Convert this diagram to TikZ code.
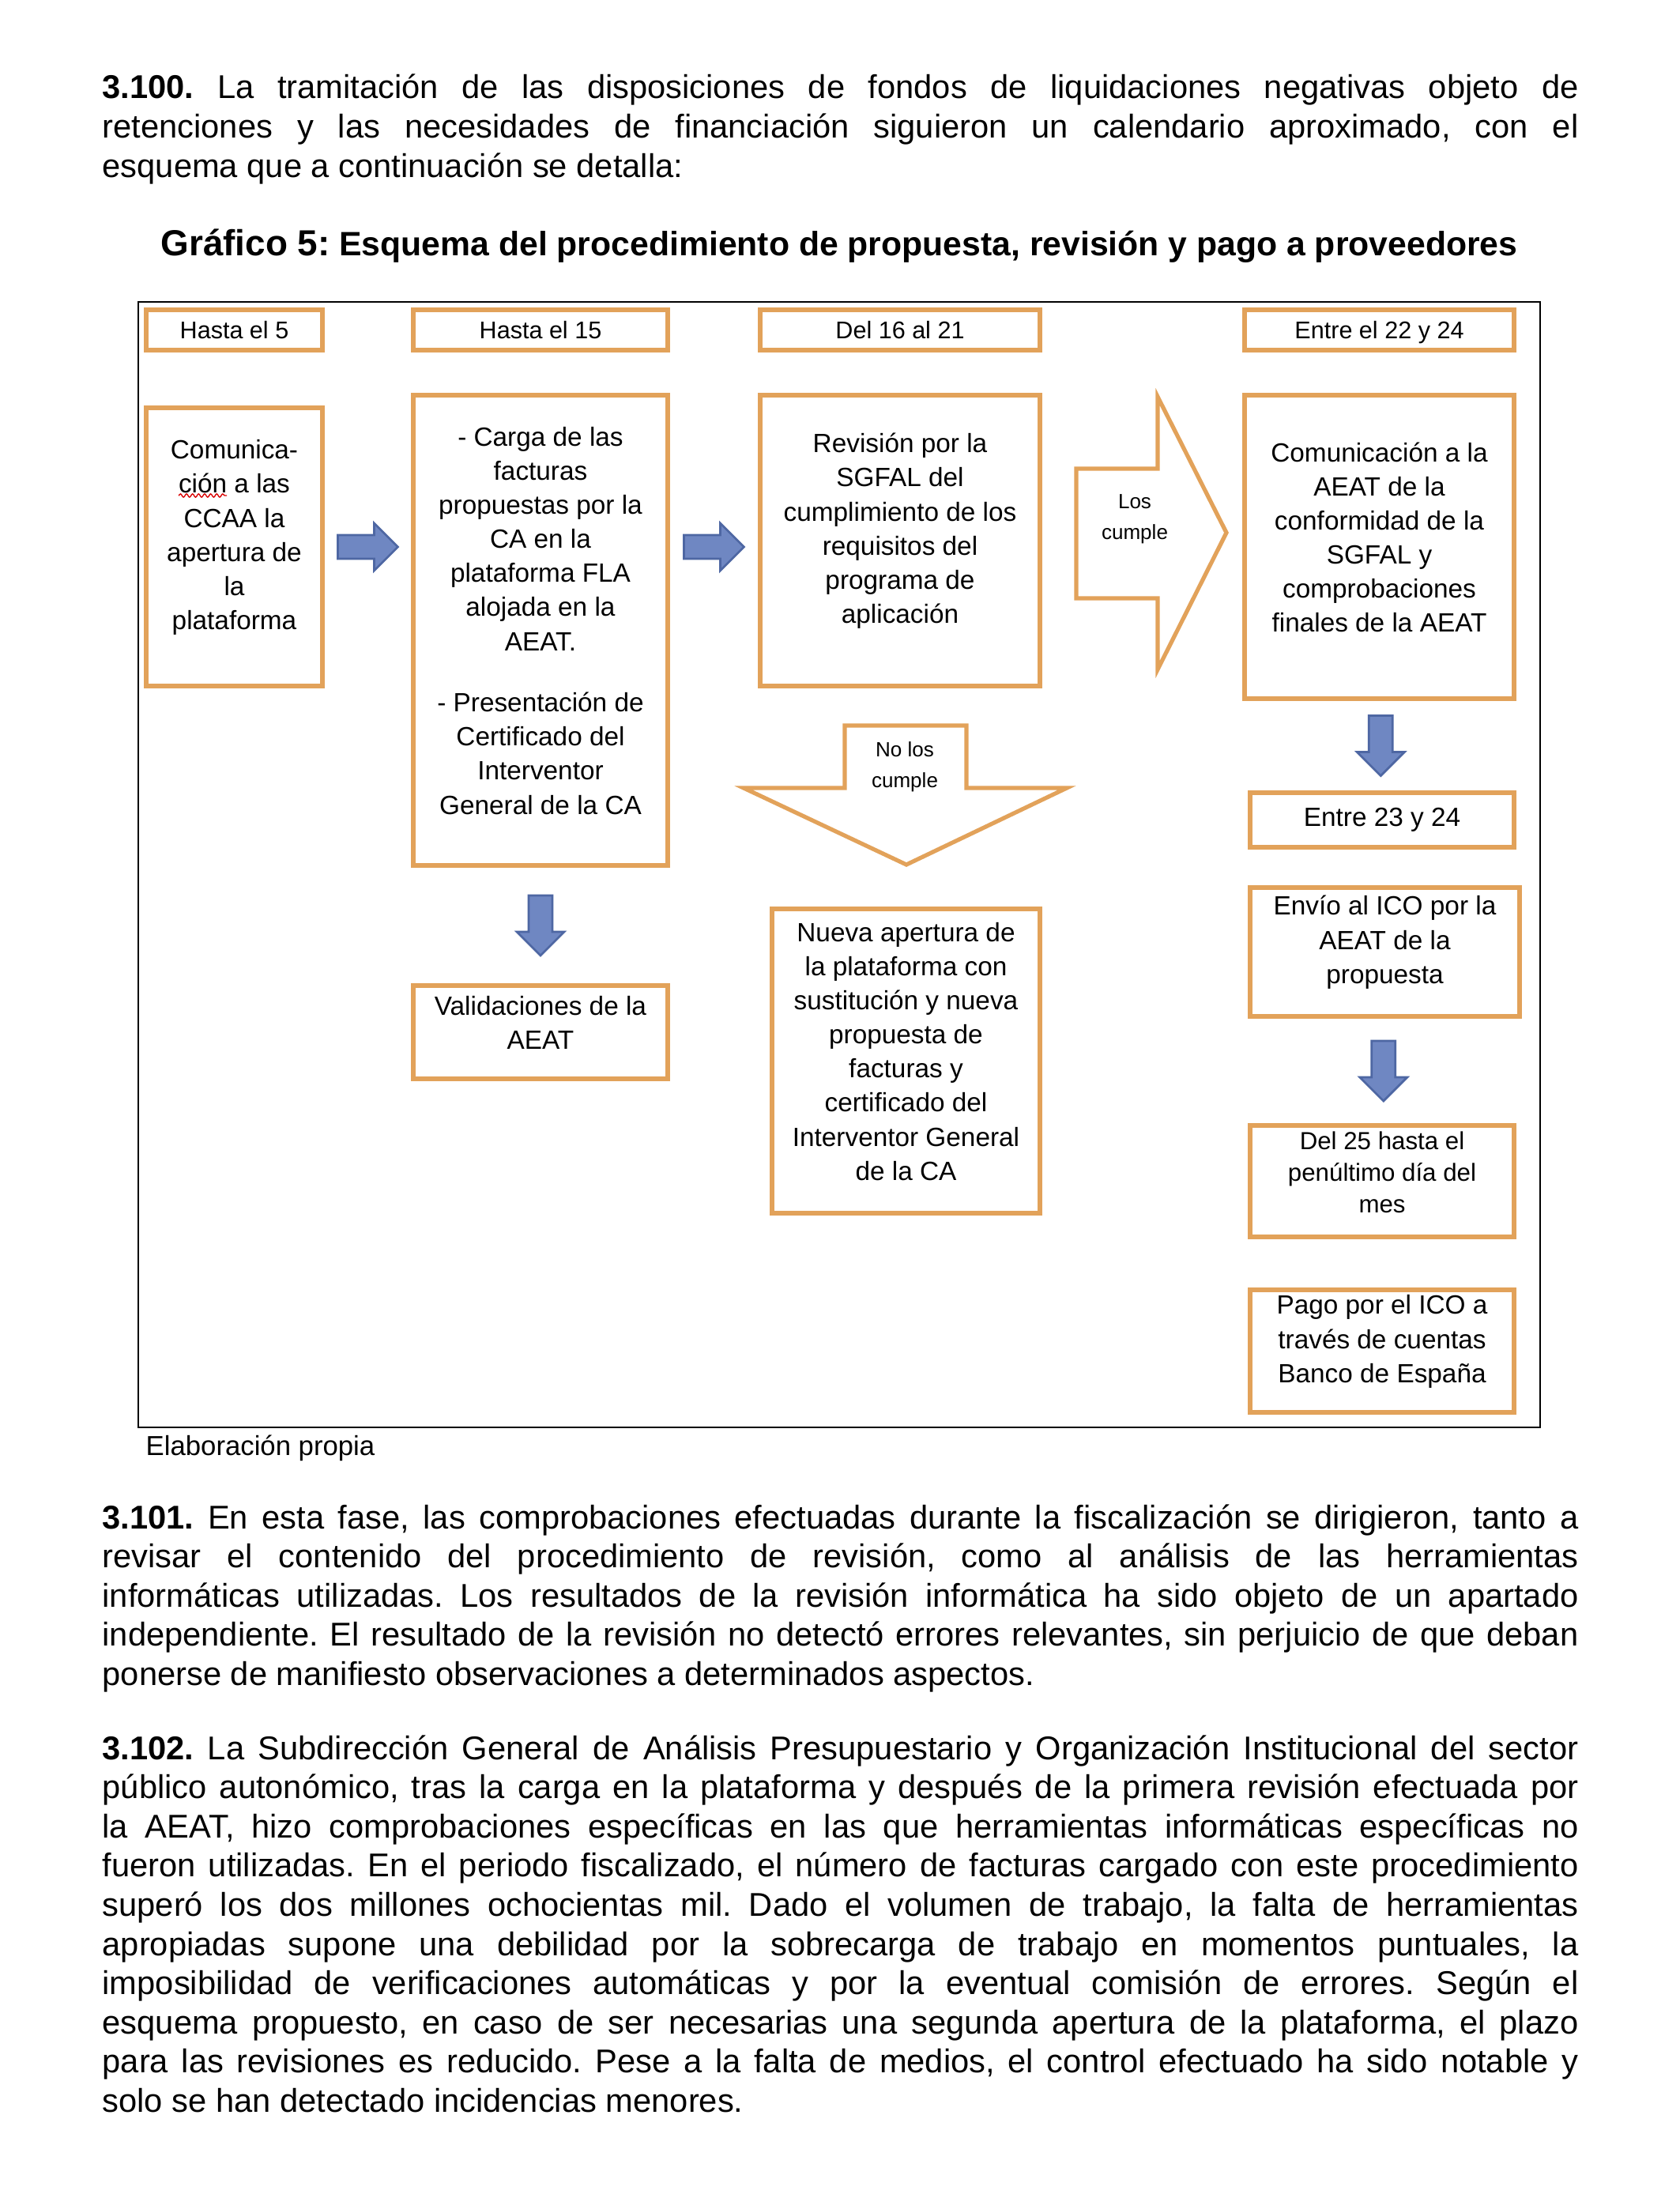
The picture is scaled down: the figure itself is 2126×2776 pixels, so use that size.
\documentclass[tikz,border=0pt]{standalone}
\usepackage{fontspec}
\setmainfont{Liberation Sans}
\frenchspacing
\usepackage{tikz}
\usetikzlibrary{fit,calc,decorations.pathmorphing}
\definecolor{boxorange}{HTML}{E2A25A}
\definecolor{arrowblue}{HTML}{6F87C2}
\definecolor{arrowedge}{HTML}{4E67A3}
\newcommand\px{0.2879pt}
\tikzset{blockarrow/.pic={\draw[draw=arrowedge,fill=arrowblue,line width=0.8pt,line join=miter] (-38,-15) -- (8,-15) -- (8,-30) -- (38,0) -- (8,30) -- (8,15) -- (-38,15) -- cycle;}}

\begin{document}
\begin{tikzpicture}[x=0.2879pt,y=-0.2879pt,
  hdr/.style={draw=boxorange,line width=1.6pt,fill=white,inner sep=0pt,text height=6.4pt,text depth=0pt,minimum height=51*\px,font=\fontsize{8.8}{10}\selectfont},
  onebox/.style={draw=boxorange,line width=1.6pt,fill=white,inner sep=0pt,text height=7pt,text depth=2.5pt,font=\fontsize{9.6}{12.4}\selectfont},
  stepbox/.style={draw=boxorange,line width=1.6pt,fill=white,inner sep=0pt,align=center,font=\fontsize{9.6}{12.4}\selectfont},
  oarrow/.style={draw=boxorange,line width=1.5pt,fill=white,line join=miter},
  lbl/.style={align=center,inner sep=0pt,font=\fontsize{7.5}{11.2}\selectfont},
  body/.style={anchor=base west,inner sep=0pt,text width=1868*\px,align=justify,font=\fontsize{12}{14.28}\selectfont}]
\path[use as bounding box,fill=white] (0,0) rectangle (2126,2776);

% text above the chart
\node[body] (p100) at (129,125) {\noindent\textbf{3.100.} La tramitación de las disposiciones de fondos de liquidaciones negativas objeto de\linebreak
retenciones y las necesidades de financiación siguieron un calendario aproximado, con el\linebreak
esquema que a continuación se detalla:};
\node[anchor=base,inner sep=0pt,font=\bfseries\fontsize{12.3}{15}\selectfont] (title) at (1062,324) {{\fontsize{13.2}{15}\selectfont Gráfico 5:} Esquema del procedimiento de propuesta, revisión y pago a proveedores};

% chart
\draw[line width=0.7pt] (175,382) rectangle (1949,1806);
\node[hdr,minimum width=223*\px] (h5) at (296.5,417.5) {Hasta el 5};
\node[hdr,minimum width=322*\px] (h15) at (684,417.5) {Hasta el 15};
\node[hdr,minimum width=354*\px] (h21) at (1139,417.5) {Del 16 al 21};
\node[hdr,minimum width=341*\px] (h24) at (1745.5,417.5) {Entre el 22 y 24};

\node[stepbox,fit={(185,516)(408,868)}] (com) {Comunica-\\ción a las\\CCAA la\\apertura de\\la\\plataforma};
\node[stepbox,fit={(523,500)(845,1095)}] (carga) {- Carga de las\\facturas\\propuestas por la\\CA en la\\plataforma FLA\\alojada en la\\AEAT.\\[10pt]- Presentación de\\Certificado del\\Interventor\\General de la CA};
\node[stepbox,fit={(962,500)(1316,868)}] (rev) {Revisión por la\\SGFAL del\\cumplimiento de los\\requisitos del\\programa de\\aplicación};
\node[stepbox,fit={(1575,500)(1916,884)}] (conf) {Comunicación a la\\AEAT de la\\conformidad de la\\SGFAL y\\comprobaciones\\finales de la AEAT};
\node[stepbox,fit={(523,1247)(845,1365)}] (valid) {Validaciones de la\\AEAT};
\node[stepbox,fit={(977,1150)(1316,1535)}] (nueva) {Nueva apertura de\\la plataforma con\\sustitución y nueva\\propuesta de\\facturas y\\certificado del\\Interventor General\\de la CA};
\node[onebox,minimum width=334*\px,minimum height=69*\px] (e23) at (1749,1037.5) {Entre 23 y 24};
\node[stepbox,fit={(1582,1123)(1923,1286)}] (envio) {Envío al ICO por la\\AEAT de la\\propuesta};
\node[stepbox,fit={(1582,1424)(1916,1565)},font=\fontsize{9}{11.5}\selectfont] (del25) {Del 25 hasta el\\penúltimo día del\\mes};
\node[stepbox,fit={(1582,1632)(1916,1787)}] (pago) {Pago por el ICO a\\través de cuentas\\Banco de España};
\draw[red!85!black,line width=0.4pt,decorate,decoration={snake,amplitude=0.6pt,segment length=2.2pt}] (226,627) -- (287,627);

% blue arrows
\pic at ($(com.east)!0.5!(carga.west |- com.east)$) {blockarrow};
\pic at ($(carga.east |- com.east)!0.5!(rev.west |- com.east)$) {blockarrow};
\pic[rotate=-90] at ($(carga.south)!0.5!(valid.north)$) {blockarrow};
\pic[rotate=-90] at ($(conf.south)!0.5!(e23.north)$) {blockarrow};
\pic[rotate=-90] at ($(envio.south)!0.5!(del25.north)$) {blockarrow};

% outline arrows
\draw[oarrow] (1362,593) -- (1465,593) -- (1465,502) -- (1552,674) -- (1465,847) -- (1465,757) -- (1362,757) -- cycle;
\node[lbl] (yes) at (1436,657) {Los\\cumple};
\draw[oarrow] (1069,918) -- (1223,918) -- (1223,997) -- (1350,997) -- (1147,1094) -- (941,997) -- (1069,997) -- cycle;
\node[lbl] (no) at (1145,970) {No los\\cumple};

\node[anchor=base west,inner sep=0pt,font=\fontsize{10}{12}\selectfont] (src) at (184,1841) {Elaboración propia};

% text below the chart
\node[body] (p101) at (129,1934) {\noindent\textbf{3.101.} En esta fase, las comprobaciones efectuadas durante la fiscalización se dirigieron, tanto a\linebreak
revisar el contenido del procedimiento de revisión, como al análisis de las herramientas\linebreak
informáticas utilizadas. Los resultados de la revisión informática ha sido objeto de un apartado\linebreak
independiente. El resultado de la revisión no detectó errores relevantes, sin perjuicio de que deban\linebreak
ponerse de manifiesto observaciones a determinados aspectos.};
\node[body] (p102) at (129,2226) {\noindent\textbf{3.102.} La Subdirección General de Análisis Presupuestario y Organización Institucional del sector\linebreak
público autonómico, tras la carga en la plataforma y después de la primera revisión efectuada por\linebreak
la AEAT, hizo comprobaciones específicas en las que herramientas informáticas específicas no\linebreak
fueron utilizadas. En el periodo fiscalizado, el número de facturas cargado con este procedimiento\linebreak
superó los dos millones ochocientas mil. Dado el volumen de trabajo, la falta de herramientas\linebreak
apropiadas supone una debilidad por la sobrecarga de trabajo en momentos puntuales, la\linebreak
imposibilidad de verificaciones automáticas y por la eventual comisión de errores. Según el\linebreak
esquema propuesto, en caso de ser necesarias una segunda apertura de la plataforma, el plazo\linebreak
para las revisiones es reducido. Pese a la falta de medios, el control efectuado ha sido notable y\linebreak
solo se han detectado incidencias menores.};
\end{tikzpicture}
\end{document}
